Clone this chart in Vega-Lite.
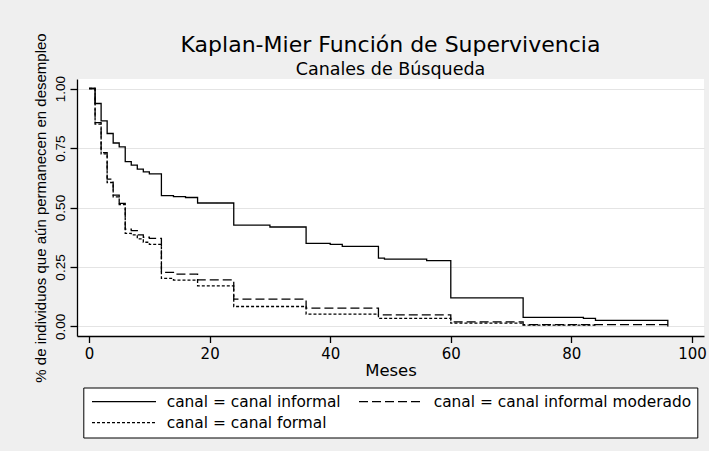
{
  "$schema": "https://vega.github.io/schema/vega-lite/v6.json",
  "width": 627,
  "height": 257,
  "autosize": {"type": "none"},
  "padding": {"left": 77, "top": 79, "right": 5, "bottom": 115},
  "background": "#efefef",
  "title": {
    "text": "Kaplan-Mier Función de Supervivencia",
    "subtitle": "Canales de Búsqueda",
    "font": "DejaVu Sans",
    "fontSize": 22,
    "fontWeight": "normal",
    "color": "black",
    "subtitleFont": "DejaVu Sans",
    "subtitleFontSize": 17.5,
    "subtitleColor": "black",
    "subtitlePadding": 4,
    "anchor": "middle",
    "offset": -47
  },
  "data": {
    "values": [
      {"canal": "canal informal", "mes": 0, "surv": 1.0},
      {"canal": "canal informal", "mes": 1, "surv": 0.937},
      {"canal": "canal informal", "mes": 2, "surv": 0.864},
      {"canal": "canal informal", "mes": 3, "surv": 0.811},
      {"canal": "canal informal", "mes": 4, "surv": 0.771},
      {"canal": "canal informal", "mes": 5, "surv": 0.755},
      {"canal": "canal informal", "mes": 6, "surv": 0.693},
      {"canal": "canal informal", "mes": 7, "surv": 0.678},
      {"canal": "canal informal", "mes": 8, "surv": 0.661},
      {"canal": "canal informal", "mes": 9, "surv": 0.65},
      {"canal": "canal informal", "mes": 10, "surv": 0.641},
      {"canal": "canal informal", "mes": 12, "surv": 0.55},
      {"canal": "canal informal", "mes": 14, "surv": 0.546},
      {"canal": "canal informal", "mes": 16, "surv": 0.542},
      {"canal": "canal informal", "mes": 18, "surv": 0.519},
      {"canal": "canal informal", "mes": 24, "surv": 0.426},
      {"canal": "canal informal", "mes": 30, "surv": 0.418},
      {"canal": "canal informal", "mes": 36, "surv": 0.349},
      {"canal": "canal informal", "mes": 40, "surv": 0.345},
      {"canal": "canal informal", "mes": 42, "surv": 0.337},
      {"canal": "canal informal", "mes": 48, "surv": 0.287},
      {"canal": "canal informal", "mes": 49, "surv": 0.283},
      {"canal": "canal informal", "mes": 56, "surv": 0.277},
      {"canal": "canal informal", "mes": 60, "surv": 0.12},
      {"canal": "canal informal", "mes": 72, "surv": 0.038},
      {"canal": "canal informal", "mes": 82, "surv": 0.034},
      {"canal": "canal informal", "mes": 84, "surv": 0.026},
      {"canal": "canal informal", "mes": 96, "surv": 0.0},
      {"canal": "canal informal moderado", "mes": 0, "surv": 1.0},
      {"canal": "canal informal moderado", "mes": 1, "surv": 0.857},
      {"canal": "canal informal moderado", "mes": 2, "surv": 0.731},
      {"canal": "canal informal moderado", "mes": 3, "surv": 0.619},
      {"canal": "canal informal moderado", "mes": 4, "surv": 0.552},
      {"canal": "canal informal moderado", "mes": 5, "surv": 0.517},
      {"canal": "canal informal moderado", "mes": 6, "surv": 0.409},
      {"canal": "canal informal moderado", "mes": 7, "surv": 0.403},
      {"canal": "canal informal moderado", "mes": 8, "surv": 0.385},
      {"canal": "canal informal moderado", "mes": 9, "surv": 0.375},
      {"canal": "canal informal moderado", "mes": 10, "surv": 0.37},
      {"canal": "canal informal moderado", "mes": 12, "surv": 0.227},
      {"canal": "canal informal moderado", "mes": 14, "surv": 0.22},
      {"canal": "canal informal moderado", "mes": 18, "surv": 0.196},
      {"canal": "canal informal moderado", "mes": 24, "surv": 0.115},
      {"canal": "canal informal moderado", "mes": 36, "surv": 0.077},
      {"canal": "canal informal moderado", "mes": 48, "surv": 0.049},
      {"canal": "canal informal moderado", "mes": 60, "surv": 0.019},
      {"canal": "canal informal moderado", "mes": 72, "surv": 0.008},
      {"canal": "canal informal moderado", "mes": 96, "surv": 0.008},
      {"canal": "canal formal", "mes": 0, "surv": 1.0},
      {"canal": "canal formal", "mes": 1, "surv": 0.85},
      {"canal": "canal formal", "mes": 2, "surv": 0.725},
      {"canal": "canal formal", "mes": 3, "surv": 0.605},
      {"canal": "canal formal", "mes": 4, "surv": 0.545},
      {"canal": "canal formal", "mes": 5, "surv": 0.512},
      {"canal": "canal formal", "mes": 6, "surv": 0.391},
      {"canal": "canal formal", "mes": 7, "surv": 0.385},
      {"canal": "canal formal", "mes": 8, "surv": 0.368},
      {"canal": "canal formal", "mes": 9, "surv": 0.354},
      {"canal": "canal formal", "mes": 10, "surv": 0.345},
      {"canal": "canal formal", "mes": 12, "surv": 0.202},
      {"canal": "canal formal", "mes": 14, "surv": 0.195},
      {"canal": "canal formal", "mes": 18, "surv": 0.171},
      {"canal": "canal formal", "mes": 24, "surv": 0.084},
      {"canal": "canal formal", "mes": 36, "surv": 0.052},
      {"canal": "canal formal", "mes": 48, "surv": 0.034},
      {"canal": "canal formal", "mes": 60, "surv": 0.014},
      {"canal": "canal formal", "mes": 72, "surv": 0.006},
      {"canal": "canal formal", "mes": 84, "surv": 0.006}
    ]
  },
  "mark": {"type": "line", "interpolate": "step-after", "color": "black", "strokeWidth": 1.3},
  "encoding": {
    "x": {
      "field": "mes",
      "type": "quantitative",
      "scale": {"domain": [-2, 102], "nice": false, "zero": false},
      "axis": {
        "title": "Meses",
        "values": [0, 20, 40, 60, 80, 100],
        "grid": false,
        "tickSize": 6.5,
        "labelPadding": 4,
        "labelFont": "DejaVu Sans",
        "labelFontSize": 15,
        "titleFont": "DejaVu Sans",
        "titleFontSize": 16.5,
        "titleFontWeight": "normal",
        "titlePadding": 1
      }
    },
    "y": {
      "field": "surv",
      "type": "quantitative",
      "scale": {"domain": [-0.04, 1.04], "nice": false, "zero": false},
      "axis": {
        "title": "% de individuos que aún permanecen en desempleo",
        "values": [0, 0.25, 0.5, 0.75, 1],
        "format": ".2f",
        "grid": true,
        "gridColor": "#e4e4e4",
        "gridWidth": 1.2,
        "tickSize": 7,
        "labelAngle": 270,
        "labelAlign": "center",
        "labelBaseline": "bottom",
        "labelPadding": 3,
        "labelFont": "Liberation Sans",
        "labelFontSize": 13.5,
        "titleFont": "Liberation Sans",
        "titleFontSize": 15,
        "titleFontWeight": "normal",
        "titlePadding": 5
      }
    },
    "strokeDash": {
      "field": "canal",
      "type": "nominal",
      "scale": {
        "domain": ["canal informal", "canal informal moderado", "canal formal"],
        "range": [[1, 0], [9, 4], [3, 2]]
      },
      "legend": {
        "orient": "none",
        "direction": "horizontal",
        "legendX": 6.3,
        "legendY": 308.5,
        "title": null,
        "columns": 2,
        "labelExpr": "'canal = ' + datum.label",
        "symbolType": "M-16,0H16",
        "symbolSize": 16,
        "symbolOffset": 27,
        "symbolStrokeColor": "black",
        "symbolStrokeWidth": 1.3,
        "symbolFillColor": "transparent",
        "labelOffset": 35,
        "labelFont": "DejaVu Sans",
        "labelFontSize": 15.4,
        "labelColor": "black",
        "labelLimit": 500,
        "columnPadding": 15,
        "rowPadding": 4.5,
        "padding": 6,
        "strokeColor": "black",
        "fillColor": "white"
      }
    }
  },
  "config": {
    "view": {"fill": "white", "stroke": null},
    "axis": {
      "domainColor": "black",
      "domainWidth": 1.3,
      "tickColor": "black",
      "tickWidth": 1.3,
      "labelColor": "black",
      "titleColor": "black"
    }
  }
}
